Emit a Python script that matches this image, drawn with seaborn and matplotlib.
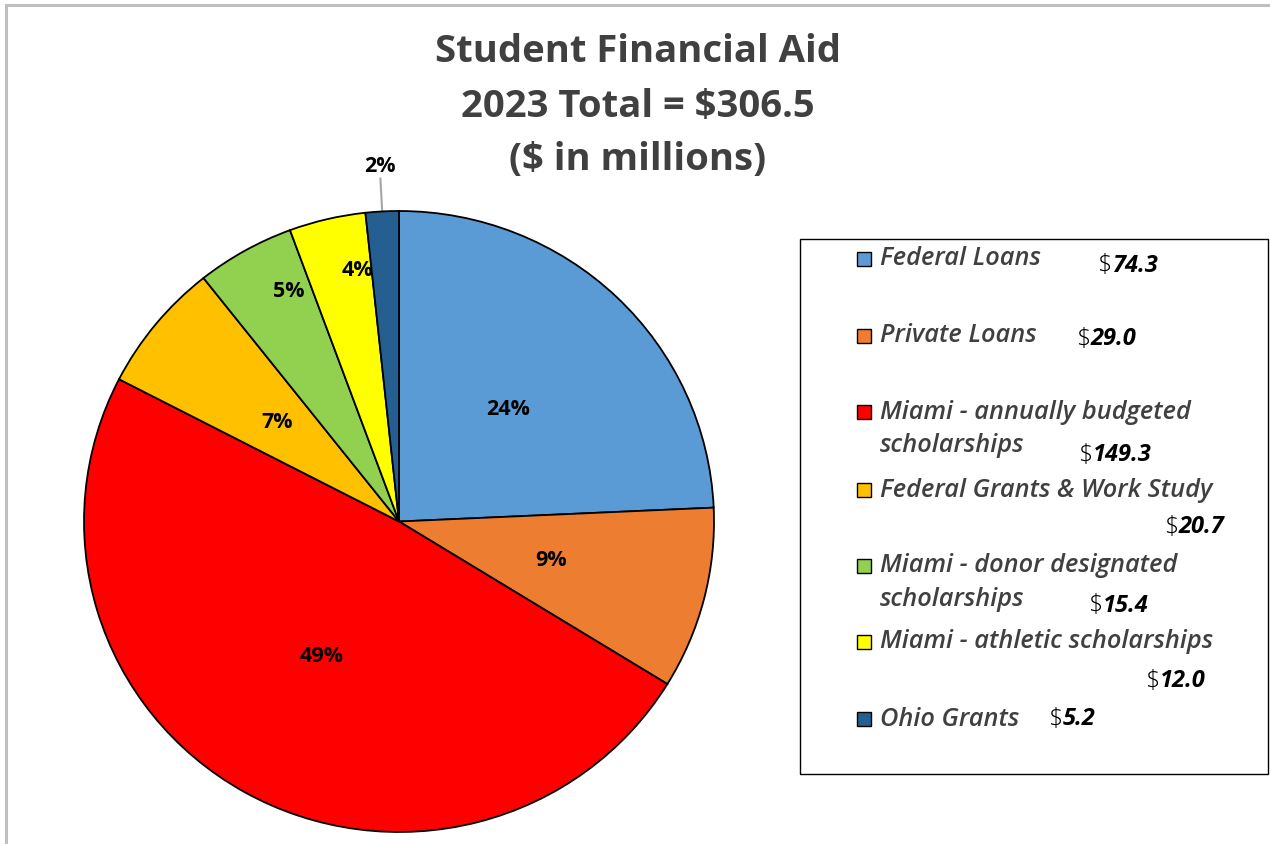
import numpy as np
import matplotlib
matplotlib.use("Agg")
import matplotlib.pyplot as plt
from matplotlib.patches import Rectangle
import seaborn as sns

# ---- data ----
categories = ["Federal Loans", "Private Loans", "Miami - annually budgeted scholarships",
              "Federal Grants & Work Study", "Miami - donor designated scholarships",
              "Miami - athletic scholarships", "Ohio Grants"]
legend_lines = [["Federal Loans"], ["Private Loans"],
                ["Miami - annually budgeted", "scholarships"],
                ["Federal Grants & Work Study"],
                ["Miami - donor designated", "scholarships"],
                ["Miami - athletic scholarships"], ["Ohio Grants"]]
values = [74.3, 29.0, 149.3, 20.7, 15.4, 12.0, 5.2]
value_labels = ["74.3", "29.0", "149.3", "20.7", "15.4", "12.0", "5.2"]
colors = ["#5B9BD5", "#ED7D31", "#FF0000", "#FFC000", "#92D050", "#FFFF00", "#255E91"]
title_lines = ["Student Financial Aid", "2023 Total = $306.5", "($ in millions)"]

sns.set_theme(style="white")
plt.rcParams['font.family'] = ['Open Sans', 'DejaVu Sans']
palette = sns.color_palette(colors)

W, H = 1270, 844
fig = plt.figure(figsize=(W / 100, H / 100), dpi=100)
fig.patch.set_facecolor("white")


def fx(x):
    return x / W


def fy(y):
    return 1 - y / H


# outer gray frame
fig.patches.append(Rectangle((fx(6), fy(H + 20)), fx(W + 20 - 6), (H + 20 - 5) / H,
                             transform=fig.transFigure, fill=False,
                             edgecolor="#BFBFBF", linewidth=2.2))

# title
title_y = [52, 107, 160]
for t, y in zip(title_lines, title_y):
    fig.text(fx(638), fy(y), t, ha="center", va="center", fontsize=27.5,
             fontweight="bold", color="#404040")

# pie axes
cx, cy, rx, ry = 399, 521.5, 315, 310.5
ax = fig.add_axes([fx(cx - rx), fy(cy + ry), 2 * rx / W, 2 * ry / H])
wedges, texts, autotexts = ax.pie(
    values, colors=palette, startangle=90, counterclock=False,
    autopct=lambda p: f"{p:.0f}%", pctdistance=0.5,
    wedgeprops=dict(edgecolor="black", linewidth=1.3),
    textprops=dict(fontsize=15.5, fontweight="bold", color="black"))
ax.set_aspect("auto")
ax.set_xlim(-1, 1)
ax.set_ylim(-1, 1)
ax.axis("off")

# adjust small-slice labels
for i, (w, at) in enumerate(zip(wedges, autotexts)):
    ang = np.deg2rad((w.theta1 + w.theta2) / 2)
    if i in (4, 5):
        shift = np.deg2rad(-4)
        at.set_position((0.82 * np.cos(ang + shift), 0.82 * np.sin(ang + shift)))
    elif i == 6:
        at.set_position((1.145 * np.cos(ang), 1.145 * np.sin(ang)))
        at.set_va("center")
        ax.plot([1.0 * np.cos(ang), 1.107 * np.cos(ang)],
                [1.0 * np.sin(ang), 1.107 * np.sin(ang)],
                color="#A6A6A6", lw=1.5, clip_on=False, zorder=0)
        at.set_clip_on(False)

# legend box
fig.patches.append(Rectangle((fx(800), fy(774)), (1268 - 800) / W, (774 - 239) / H,
                             transform=fig.transFigure, fill=False,
                             edgecolor="black", linewidth=1.0))

label_y = [259, 336, 412, 490, 566, 642, 719]
val_pos = [(1097, 266), (1076, 339), (1078, 455), (1164, 527), (1088, 606),
           (1145, 681), (1048, 719)]
line_gap = 34
renderer = fig.canvas.get_renderer()
for lines, y, col, (vx, vy), v in zip(legend_lines, label_y, palette, val_pos, value_labels):
    fig.patches.append(Rectangle((fx(857), fy(y + 7)), 14 / W, 14 / H,
                                 transform=fig.transFigure, facecolor=col,
                                 edgecolor="black", linewidth=1.0))
    for k, ln in enumerate(lines):
        fig.text(fx(880), fy(y + k * line_gap), ln, ha="left", va="center",
                 fontsize=18.3, fontstyle="italic", fontweight="semibold", color="#404040")
    dt = fig.text(fx(vx), fy(vy), "$", ha="left", va="center", fontsize=18,
                  color="black", fontweight="light")
    bb = dt.get_window_extent(renderer)
    fig.text(fx(bb.x1 + 0.5), fy(vy), v, ha="left", va="center", fontsize=17,
             fontstyle="italic", fontweight="bold", color="black")

fig.savefig("out.png", dpi=100, facecolor="white")
